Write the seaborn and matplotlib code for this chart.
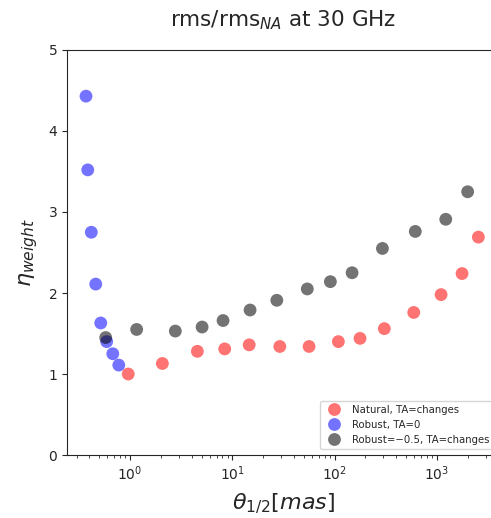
import numpy as np
import pandas as pd
import seaborn as sns
import matplotlib.pyplot as plt

# === Dados ===
theta_natural = [0.96, 2.07, 4.55, 8.42, 14.6, 29.1, 56.2, 108.7, 177, 306, 593, 1097, 1759, 2540]
eta_natural = [1.00, 1.13, 1.28, 1.31, 1.36, 1.34, 1.34, 1.40, 1.44, 1.56, 1.76, 1.98, 2.24, 2.69]

theta_robust0 = [0.371, 0.386, 0.418, 0.462, 0.517, 0.591, 0.678, 0.776]
eta_robust0 = [4.43, 3.52, 2.75, 2.11, 1.63, 1.40, 1.25, 1.11]

theta_robust05 = [0.578, 1.16, 2.77, 5.06, 8.11, 14.9, 27.2, 54, 90.8, 148, 293, 614, 1219, 1995]
eta_robust05 = [1.45, 1.55, 1.53, 1.58, 1.66, 1.79, 1.91, 2.05, 2.14, 2.25, 2.55, 2.76, 2.91, 3.25]

labels = ['Natural, TA=changes', 'Robust, TA=0', 'Robust=\u22120.5, TA=changes']
colors = ['red', 'blue', 'black']

df = pd.concat([
    pd.DataFrame({'theta': theta_natural, 'eta': eta_natural, 'caso': labels[0]}),
    pd.DataFrame({'theta': theta_robust0, 'eta': eta_robust0, 'caso': labels[1]}),
    pd.DataFrame({'theta': theta_robust05, 'eta': eta_robust05, 'caso': labels[2]}),
], ignore_index=True)

# === Gráfico ===
sns.set_style('ticks')
fig = plt.figure(figsize=(4.91, 5.18), dpi=100)
ax = fig.add_axes([0.1365, 0.1216, 0.882, 0.7819])

sns.scatterplot(data=df, x='theta', y='eta', hue='caso', hue_order=labels,
                palette=dict(zip(labels, colors)), alpha=0.55, s=85,
                linewidth=0, ax=ax)

ax.set_xscale('log')
ax.set_xlim(0.242, 4140)
ax.set_ylim(0, 5)
ax.set_yticks([0, 1, 2, 3, 4, 5])
ax.tick_params(labelsize=10)
ax.set_title(r'rms/rms$_{NA}$ at 30 GHz', fontsize=15.5, pad=17)
ax.set_xlabel(r'$\theta_{1/2} [mas]$', fontsize=16, labelpad=6)
ax.set_ylabel(r'$\eta_{weight}$', fontsize=16, labelpad=6)
ax.legend(loc='lower right', fontsize=7.3, markerscale=1.0, framealpha=0.8,
          borderaxespad=0.6)

fig.savefig('out.png', dpi=100)
